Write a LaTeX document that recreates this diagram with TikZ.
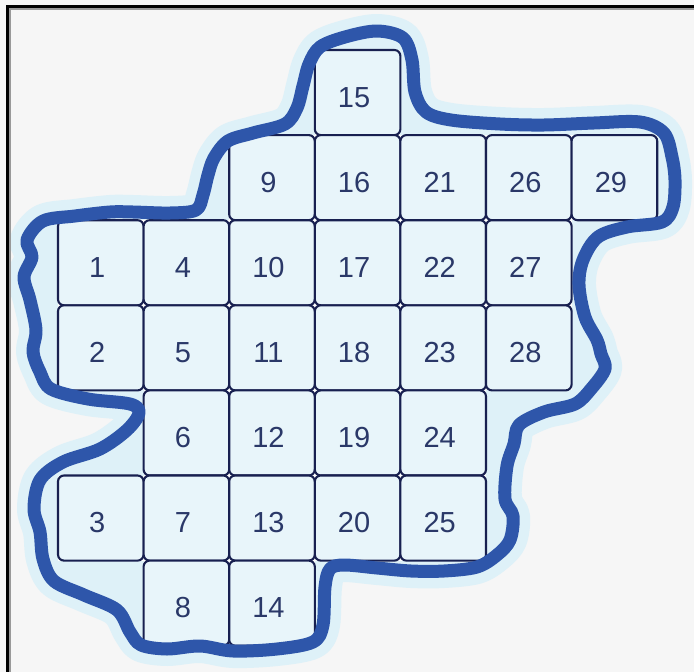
\documentclass[tikz,border=0pt]{standalone}
\usepackage{fontspec}
\setmainfont{Liberation Sans}
\definecolor{bg}{RGB}{246,246,246}
\definecolor{halo}{RGB}{222,241,248}
\definecolor{cellfill}{RGB}{232,245,250}
\definecolor{cellline}{RGB}{24,32,80}
\definecolor{txt}{RGB}{42,56,104}
\definecolor{outl}{RGB}{46,86,170}
\tikzset{
  cellbox/.style={rectangle, rounded corners=6pt, draw=cellline, line width=2.1pt,
    fill=cellfill, minimum width=85.6pt, minimum height=85.1pt, inner sep=0pt,
    text=txt, font=\fontsize{29}{29}\selectfont, text height=29pt, text depth=0pt},
  border/.style={insert path={plot[smooth cycle, tension=0.55] coordinates {
    (27,240) (43,221) (75,216) (110,212) (133,212) (170,213) (196,210) (203,195)
    (208,175) (214,158) (228,141) (253,133) (285,124) (297,108) (303,86) (309,64)
    (320,47) (345,37) (377,31) (403,38) (412,60) (415,92) (426,112) (451,120)
    (500,124) (544,125) (594,123) (640,122) (664,133) (672,157) (675,180)
    (673,207) (662,222) (627,227) (598,237) (583,260) (579,285) (585,317)
    (597,340) (601,354) (605,369) (591,389) (575,404) (544,412) (519,425)
    (514,444) (507,466) (505,499) (513,516) (510,540) (497,555) (477,567)
    (444,571) (411,571) (377,568) (344,565) (330,569) (325,587) (323,625)
    (313,642) (277,649) (233,651) (200,646) (167,649) (141,645) (130,632)
    (117,610) (84,595) (54,581) (43,559) (40,532) (34,509) (40,480) (63,462)
    (100,449) (127,430) (139,413) (130,404) (88,399) (51,389) (40,372) (33,352)
    (36,330) (30,300) (24,277) (32,257)}}}
}
\begin{document}
\begin{tikzpicture}[x=1pt,y=-1pt]
\useasboundingbox (0,0) rectangle (694,672);
\fill[bg] (0,0) rectangle (694,672);
% light halo and inner tint
\path[fill=halo, draw=halo, line width=34pt, line join=round, border];
% white underlay for the joints between cells
\foreach \n/\c/\r in {15/3/0, 9/2/1, 16/3/1, 21/4/1, 26/5/1, 29/6/1,
  1/0/2, 4/1/2, 10/2/2, 17/3/2, 22/4/2, 27/5/2,
  2/0/3, 5/1/3, 11/2/3, 18/3/3, 23/4/3, 28/5/3,
  6/1/4, 12/2/4, 19/3/4, 24/4/4,
  3/0/5, 7/1/5, 13/2/5, 20/3/5, 25/4/5,
  8/1/6, 14/2/6}{
  \fill[white] ({58+85.6*\c},{50+85.1*\r}) rectangle ({58+85.6*(\c+1)},{50+85.1*(\r+1)});
}
\foreach \n/\c/\r in {15/3/0, 9/2/1, 16/3/1, 21/4/1, 26/5/1, 29/6/1,
  1/0/2, 4/1/2, 10/2/2, 17/3/2, 22/4/2, 27/5/2,
  2/0/3, 5/1/3, 11/2/3, 18/3/3, 23/4/3, 28/5/3,
  6/1/4, 12/2/4, 19/3/4, 24/4/4,
  3/0/5, 7/1/5, 13/2/5, 20/3/5, 25/4/5,
  8/1/6, 14/2/6}{
  \node[cellbox] (c\n) at ({58+85.6*(\c+0.5)},{50+85.1*(\r+0.5)}) {\n\kern7pt};
}
% thick hand-drawn boundary
\draw[outl, line width=13pt, line join=round, border];
% picture frame
\draw[black, line width=3pt] (7.5,672) -- (7.5,6.5) -- (694,6.5);
\draw[black!40, line width=2pt] (10,672) -- (10,9) -- (694,9);
\end{tikzpicture}
\end{document}
